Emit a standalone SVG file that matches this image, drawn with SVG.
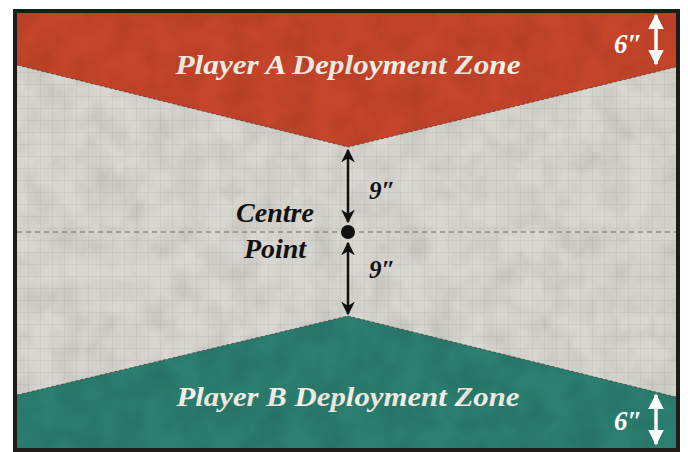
<svg xmlns="http://www.w3.org/2000/svg" width="688" height="452" viewBox="0 0 688 452">
<defs>
<pattern id="grid" width="12" height="12" patternUnits="userSpaceOnUse" x="17" y="13">
<path d="M12 0V12M0 12H12" fill="none" stroke="#a9a7a0" stroke-width="0.6" opacity="0.6"/>
</pattern>
<filter id="tex" x="0" y="0" width="100%" height="100%">
<feTurbulence type="fractalNoise" baseFrequency="0.035" numOctaves="3" seed="4"/>
<feColorMatrix type="matrix" values="0 0 0 0 0  0 0 0 0 0  0 0 0 0 0  0 0 0 -1.1 0.75"/>
</filter>
<marker id="ah" viewBox="0 0 10 10" refX="9" refY="5" markerWidth="5.5" markerHeight="5.5" orient="auto-start-reverse">
<path d="M0 0L10 5L0 10L3 5Z" fill="#111"/>
</marker>
<marker id="wh" viewBox="0 0 10 10" refX="9" refY="5" markerWidth="4.5" markerHeight="4.5" orient="auto-start-reverse">
<path d="M0 0L10 5L0 10Z" fill="#fff"/>
</marker>
</defs>
<style>
.zl{font-family:"Liberation Serif",serif;font-style:italic;font-weight:bold;font-size:27px;fill:#f6f1e8}
.cp{font-family:"Liberation Serif",serif;font-style:italic;font-weight:bold;font-size:28px;fill:#111}
.nine{font-family:"Liberation Serif",serif;font-style:italic;font-weight:bold;font-size:25px;fill:#111}
.six{font-family:"Liberation Serif",serif;font-style:italic;font-weight:bold;font-size:27px;fill:#fff}
.edge{fill:none;stroke:#3a2a22;stroke-width:1;stroke-dasharray:3 2;opacity:0.6}
</style>
<rect x="0" y="0" width="688" height="452" fill="#fff"/>
<rect x="17" y="13" width="659" height="435" fill="#d9d7d1"/>
<rect x="17" y="13" width="659" height="435" fill="url(#grid)"/>
<g id="zoneA">
<polygon points="17,13 676,13 676,67 348,147 17,65" fill="#c5452a"/>
<polyline class="edge" points="17,65 348,147 676,67"/>
<text class="zl" x="348" y="74" text-anchor="middle" textLength="345" lengthAdjust="spacingAndGlyphs">Player A Deployment Zone</text>
</g>
<g id="zoneB">
<polygon points="17,395 348,316 676,397 676,448 17,448" fill="#2b7e70"/>
<polyline class="edge" points="17,395 348,316 676,397"/>
<text class="zl" x="348" y="406" text-anchor="middle" textLength="343" lengthAdjust="spacingAndGlyphs">Player B Deployment Zone</text>
</g>
<rect x="17" y="13" width="659" height="435" filter="url(#tex)" opacity="0.14"/>
<line x1="17" y1="232" x2="676" y2="232" stroke="#666" stroke-width="1.2" stroke-dasharray="5 4"/>
<g id="centre">
<circle cx="348" cy="232" r="7" fill="#111"/>
<text class="cp" x="275" y="222" text-anchor="middle">Centre</text>
<text class="cp" x="275" y="258" text-anchor="middle">Point</text>
</g>
<g id="connectors">
<line x1="348" y1="150" x2="348" y2="222" stroke="#111" stroke-width="2.5" marker-start="url(#ah)" marker-end="url(#ah)"/>
<line x1="348" y1="243" x2="348" y2="314" stroke="#111" stroke-width="2.5" marker-start="url(#ah)" marker-end="url(#ah)"/>
<line x1="656" y1="15" x2="656" y2="64" stroke="#fff" stroke-width="3.5" marker-start="url(#wh)" marker-end="url(#wh)"/>
<line x1="656" y1="395" x2="656" y2="444" stroke="#fff" stroke-width="3.5" marker-start="url(#wh)" marker-end="url(#wh)"/>
</g>
<g id="labels">
<text class="nine" x="369" y="199">9″</text>
<text class="nine" x="369" y="278">9″</text>
<text class="six" x="614" y="53">6″</text>
<text class="six" x="614" y="430">6″</text>
</g>
<rect x="15" y="11" width="663" height="439" fill="none" stroke="#1f1b19" stroke-width="4"/>
</svg>
